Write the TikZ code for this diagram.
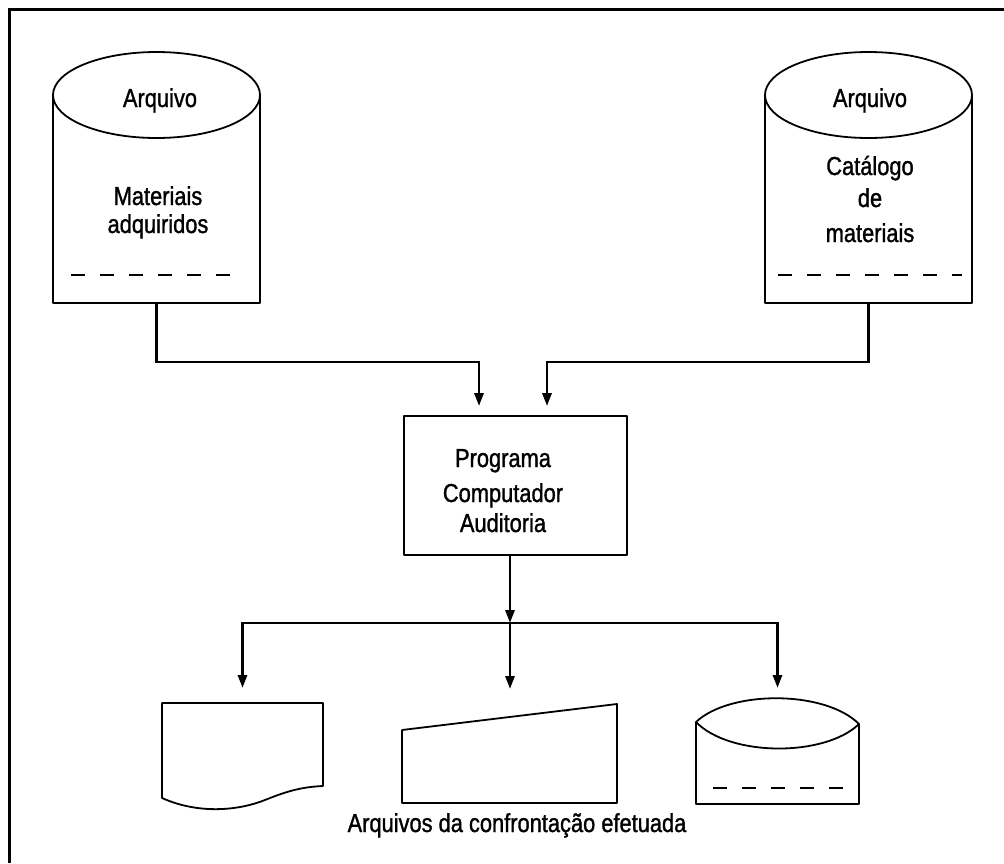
\documentclass[tikz,border=0pt]{standalone}
\usepackage{fontspec}
\setmainfont{Liberation Sans}[FakeStretch=0.84, FakeBold=1.2]
\usetikzlibrary{arrows.meta}
\begin{document}
\begin{tikzpicture}[x=1pt,y=-1pt,
  outline/.style={line width=1.8pt, line join=round},
  link/.style={line width=2.8pt, line join=miter},
  arr/.style={link, -{Triangle[length=13pt,width=9pt]}},
  dashline/.style={line width=1.6pt, dash pattern=on 14pt off 15pt},
  lbl/.style={font=\fontsize{26}{30}\selectfont, anchor=base, inner sep=0pt},
  area/.style={inner sep=0pt, outer sep=0pt}]
\fill[white] (0,0) rectangle (1004,863);
\useasboundingbox (0,0) rectangle (1004,863);

% frame
\draw[line width=3pt] (9,863) -- (9,9) -- (1004,9);

% file: materiais adquiridos
\node[area, minimum width=207pt, minimum height=251pt] (fileA) at (156.5,177.5) {};
\draw[outline] (53,95) -- (53,303) -- (260,303) -- (260,95);
\draw[outline] (156.5,95) ellipse [x radius=103.5pt, y radius=43pt];
\draw[dashline] (71,275) -- (240,275);
\node[lbl] (fileAtop) at (160,107) {Arquivo};
\node[lbl] (fileA1) at (158,205) {Materiais};
\node[lbl] (fileA2) at (158,233) {adquiridos};

% file: catalogo de materiais
\node[area, minimum width=207pt, minimum height=251pt] (fileB) at (868.5,177.5) {};
\draw[outline] (765,95) -- (765,303) -- (972,303) -- (972,95);
\draw[outline] (868.5,95) ellipse [x radius=103.5pt, y radius=43pt];
\draw[dashline] (778,275) -- (962,275);
\node[lbl] (fileBtop) at (870,107) {Arquivo};
\node[lbl] (fileB1) at (870,175) {Catálogo};
\node[lbl] (fileB2) at (870,207) {de};
\node[lbl] (fileB3) at (870,242) {materiais};

% program box
\node[draw, outline, minimum width=223pt, minimum height=139pt] (prog) at (515.5,485.5) {};
\node[lbl] (prog1) at (503,467) {Programa};
\node[lbl] (prog2) at (503,502) {Computador};
\node[lbl] (prog3) at (503,532) {Auditoria};

% inputs
\draw[arr, shorten >=9pt] (fileA.south) -- ++(0,59) -| ([xshift=-36.5pt]prog.north);
\draw[arr, shorten >=9pt] (fileB.south) -- ++(0,59) -| ([xshift=31.5pt]prog.north);

% output shapes
\node[area, minimum width=161pt, minimum height=105pt] (doc) at (242.5,755.5) {};
\draw[outline] (162,798) -- (162,703) -- (323,703) -- (323,786)
  .. controls (300,787) and (285,792) .. (265,800)
  .. controls (240,810) and (200,815) .. cycle;

\node[area, minimum width=215pt, minimum height=86pt] (tape) at (509.5,760) {};
\draw[outline] (402,730) -- (617,704) -- (617,803) -- (402,803) -- cycle;

\node[area, minimum width=163pt, minimum height=108pt] (disk) at (777.5,750) {};
\draw[outline] (696,722) .. controls (730,690) and (825,690) .. (859,724)
  .. controls (825,757) and (730,757) .. cycle;
\draw[outline] (696,722) -- (696,804) -- (859,804) -- (859,724);
\draw[dashline] (713,788) -- (848,788);

% outputs
\coordinate (hub) at (510,623);
\draw[arr] ([xshift=-5.5pt]prog.south) -- (hub);
\draw[arr, shorten >=15pt] (hub) -| (doc.north);
\draw[arr, shorten >=8pt] (hub) -| (disk.north);
\draw[arr, shorten >=28pt] (hub) -- (hub |- tape.north);

\node[lbl] (caption) at (517,832) {Arquivos da confrontação efetuada};
\end{tikzpicture}
\end{document}
